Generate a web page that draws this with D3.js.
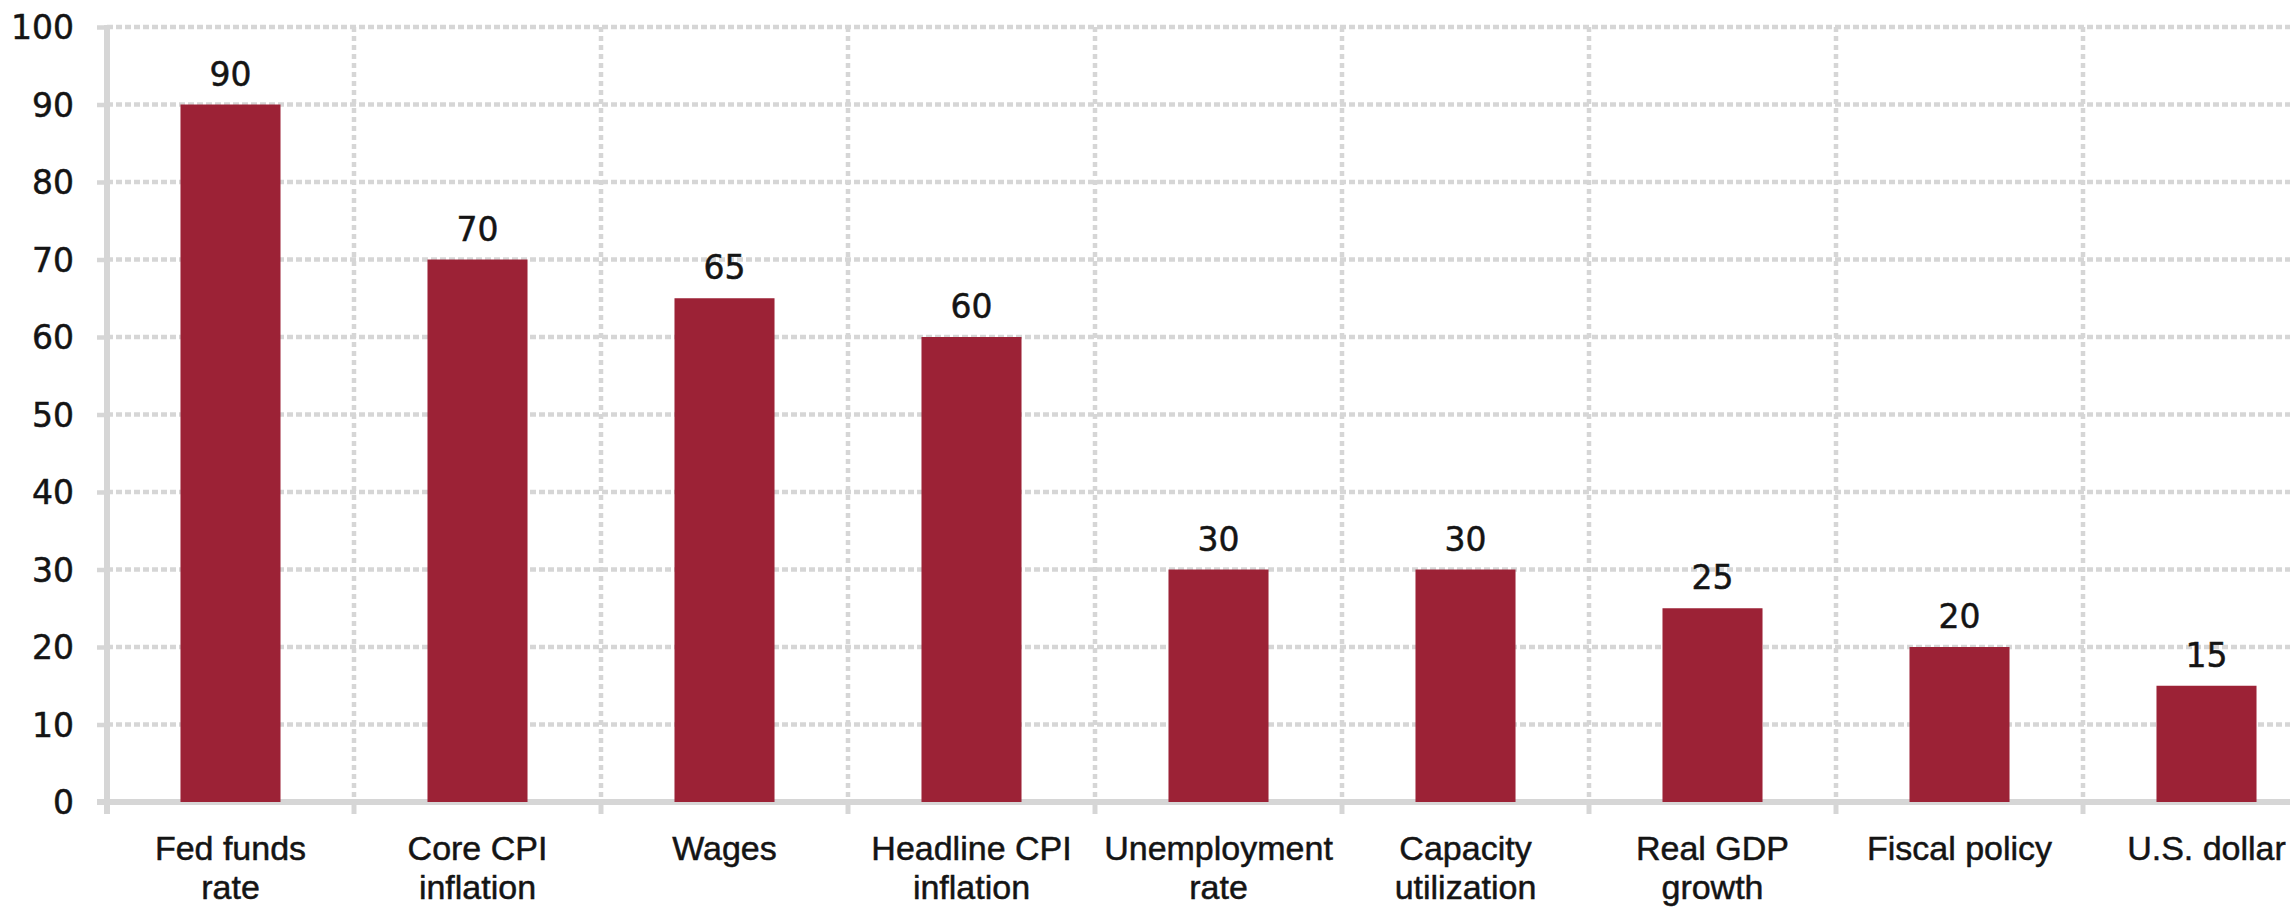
<!DOCTYPE html>
<html>
<head>
<meta charset="utf-8">
<script src="https://cdn.jsdelivr.net/npm/d3@7"></script>
<style>
  html, body { margin: 0; padding: 0; background: #fff; }
  svg { display: block; }
</style>
</head>
<body>
<div id="chart"></div>
<script>
const categories = [
  ["Fed funds", "rate"],
  ["Core CPI", "inflation"],
  ["Wages"],
  ["Headline CPI", "inflation"],
  ["Unemployment", "rate"],
  ["Capacity", "utilization"],
  ["Real GDP", "growth"],
  ["Fiscal policy"],
  ["U.S. dollar"]
];
const values = [90, 70, 65, 60, 30, 30, 25, 20, 15];
const yTicks = [0, 10, 20, 30, 40, 50, 60, 70, 80, 90, 100];

const W = 2290, H = 907;
const x0 = 107, step = 247, yTop = 27, yBottom = 802;
const gridColor = "#d6d6d6";
const barColor = "#9c2236";
const textColor = "#141414";

const svg = d3.select("#chart").append("svg")
  .attr("width", W).attr("height", H);

const keys = categories.map((c, i) => i);
const x = d3.scaleBand()
  .domain(keys)
  .range([x0, x0 + step * categories.length])
  .paddingInner(0.595)
  .paddingOuter(0.2975);
const y = d3.scaleLinear().domain([0, 100]).range([yBottom, yTop]);

// horizontal dashed gridlines (skip 0 -> axis)
svg.append("g").selectAll("line.h")
  .data(yTicks.filter(t => t !== 0))
  .join("line")
  .attr("x1", x0).attr("x2", W + 50)
  .attr("y1", d => y(d)).attr("y2", d => y(d))
  .attr("stroke", gridColor).attr("stroke-width", 4.5)
  .attr("stroke-dasharray", "6,3");

// vertical dashed gridlines at category boundaries
const boundaries = keys.slice(1).map(i => x(i) - x.step() * x.paddingInner() / 2);
svg.append("g").selectAll("line.v")
  .data(boundaries)
  .join("line")
  .attr("x1", d => d).attr("x2", d => d)
  .attr("y1", y(100)).attr("y2", yBottom)
  .attr("stroke", gridColor).attr("stroke-width", 4.5)
  .attr("stroke-dasharray", "5,4");

// Y axis using d3.axisLeft
const yAxis = d3.axisLeft(y).tickValues(yTicks).tickSize(10).tickPadding(23);
const gy = svg.append("g").attr("transform", `translate(${x0},0)`).call(yAxis);
gy.select(".domain").remove();
gy.selectAll(".tick line").attr("stroke", gridColor).attr("stroke-width", 4.5);
gy.selectAll(".tick text")
  .attr("fill", textColor)
  .attr("stroke", textColor).attr("stroke-width", 0.5)
  .style("font-family", "'DejaVu Sans', sans-serif")
  .style("font-size", "33px")
  .attr("dy", "0.36em");

// axis lines
svg.append("line")
  .attr("x1", x0).attr("x2", x0)
  .attr("y1", y(100) - 2).attr("y2", yBottom + 12)
  .attr("stroke", gridColor).attr("stroke-width", 6);
svg.append("line")
  .attr("x1", x0 - 10).attr("x2", W + 50)
  .attr("y1", yBottom).attr("y2", yBottom)
  .attr("stroke", gridColor).attr("stroke-width", 6);

// x ticks at boundaries
svg.append("g").selectAll("line.xt")
  .data(boundaries)
  .join("line")
  .attr("x1", d => d).attr("x2", d => d)
  .attr("y1", yBottom).attr("y2", yBottom + 12)
  .attr("stroke", gridColor).attr("stroke-width", 5);

// bars
svg.append("g").selectAll("rect")
  .data(values)
  .join("rect")
  .attr("x", (d, i) => x(i))
  .attr("width", x.bandwidth())
  .attr("y", d => y(d))
  .attr("height", d => y(0) - y(d))
  .attr("fill", barColor);

// value labels
svg.append("g").selectAll("text")
  .data(values)
  .join("text")
  .attr("x", (d, i) => x(i) + x.bandwidth() / 2)
  .attr("y", d => y(d) - 19)
  .attr("text-anchor", "middle")
  .attr("fill", textColor)
  .attr("stroke", textColor).attr("stroke-width", 0.5)
  .style("font-family", "'DejaVu Sans', sans-serif")
  .style("font-size", "33px")
  .text(d => d);

// category labels
const lab = svg.append("g").selectAll("text")
  .data(categories)
  .join("text")
  .attr("text-anchor", "middle")
  .attr("fill", textColor)
  .attr("stroke", textColor).attr("stroke-width", 0.5)
  .style("font-family", "'Liberation Sans', Arial, sans-serif")
  .style("font-size", "34px");
lab.each(function(lines, i) {
  const t = d3.select(this);
  lines.forEach((ln, j) => {
    t.append("tspan")
      .attr("x", x(i) + x.bandwidth() / 2)
      .attr("y", 860 + j * 39)
      .text(ln);
  });
});
</script>
</body>
</html>
